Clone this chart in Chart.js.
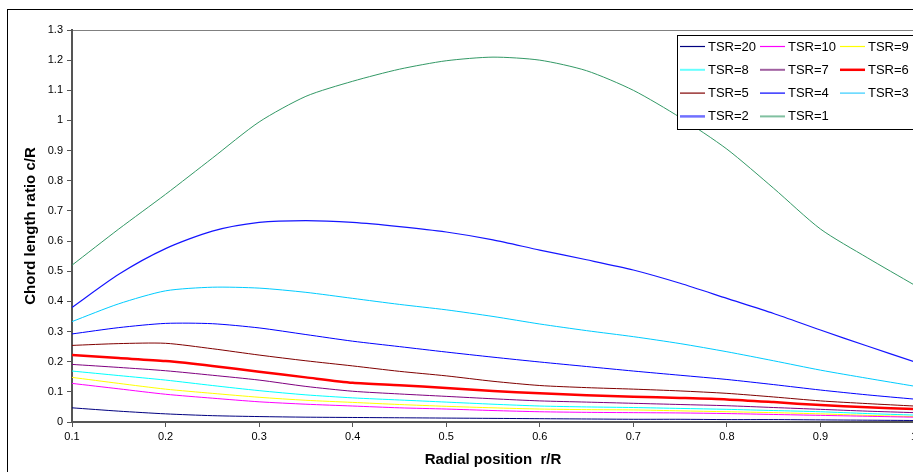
<!DOCTYPE html>
<html>
<head>
<meta charset="utf-8">
<script src="https://cdn.jsdelivr.net/npm/chart.js@4"></script>
<style>
  html, body { margin: 0; padding: 0; background: #fff; overflow: hidden; }
  #wrap { width: 913px; height: 472px; overflow: hidden; }
</style>
</head>
<body>
<div id="wrap"><canvas id="myChart" width="930" height="472"></canvas></div>
<script>
const rPos = [0.1, 0.15, 0.2, 0.25, 0.3, 0.35, 0.4, 0.45, 0.5, 0.55,
  0.6, 0.65, 0.7, 0.75, 0.8, 0.85, 0.9, 0.95, 1.0];

const tsr20 = [0.047, 0.036, 0.027, 0.021, 0.018, 0.016, 0.015, 0.014, 0.013, 0.012,
  0.011, 0.010, 0.009, 0.009, 0.008, 0.008, 0.007, 0.006, 0.005];
const tsr10 = [0.128, 0.110, 0.092, 0.079, 0.067, 0.059, 0.053, 0.047, 0.043, 0.038,
  0.034, 0.032, 0.031, 0.030, 0.028, 0.025, 0.022, 0.019, 0.016];
const tsr9 = [0.148, 0.128, 0.109, 0.095, 0.082, 0.072, 0.065, 0.058, 0.052, 0.047,
  0.043, 0.041, 0.040, 0.037, 0.034, 0.031, 0.027, 0.022, 0.018];
const tsr8 = [0.169, 0.154, 0.139, 0.121, 0.104, 0.090, 0.080, 0.073, 0.066, 0.059,
  0.053, 0.050, 0.048, 0.045, 0.042, 0.038, 0.034, 0.028, 0.023];
const tsr7 = [0.191, 0.181, 0.170, 0.155, 0.139, 0.118, 0.102, 0.093, 0.085, 0.077,
  0.070, 0.066, 0.062, 0.058, 0.054, 0.048, 0.042, 0.036, 0.031];
const tsr6 = [0.222, 0.212, 0.202, 0.186, 0.167, 0.148, 0.130, 0.122, 0.113, 0.103,
  0.095, 0.089, 0.084, 0.080, 0.075, 0.066, 0.056, 0.049, 0.043];
const tsr5 = [0.254, 0.260, 0.261, 0.243, 0.222, 0.203, 0.186, 0.168, 0.153, 0.135,
  0.121, 0.114, 0.109, 0.103, 0.095, 0.083, 0.070, 0.061, 0.053];
const tsr4 = [0.292, 0.313, 0.327, 0.326, 0.312, 0.290, 0.268, 0.250, 0.232, 0.215,
  0.199, 0.184, 0.169, 0.155, 0.141, 0.124, 0.106, 0.090, 0.076];
const tsr3 = [0.333, 0.392, 0.435, 0.447, 0.444, 0.430, 0.410, 0.390, 0.372, 0.350,
  0.325, 0.303, 0.283, 0.260, 0.233, 0.203, 0.172, 0.145, 0.119];
const tsr2 = [0.380, 0.490, 0.575, 0.633, 0.662, 0.668, 0.662, 0.648, 0.630, 0.604,
  0.570, 0.538, 0.504, 0.460, 0.410, 0.360, 0.305, 0.252, 0.200];
const tsr1 = [0.520, 0.640, 0.755, 0.875, 0.995, 1.080, 1.130, 1.170, 1.198, 1.210,
  1.200, 1.165, 1.100, 1.010, 0.905, 0.775, 0.640, 0.545, 0.455];

const seriesLabels = ["TSR=20", "TSR=10", "TSR=9", "TSR=8", "TSR=7", "TSR=6",
  "TSR=5", "TSR=4", "TSR=3", "TSR=2", "TSR=1"];
const seriesValues = [tsr20, tsr10, tsr9, tsr8, tsr7, tsr6, tsr5, tsr4, tsr3, tsr2, tsr1];
const seriesColors = ["#000080", "#FF00FF", "#FFFF00", "#00FFFF", "#800080", "#FF0000",
  "#800000", "#0000FF", "#00CCFF", "#1515FF", "#339966"];
const seriesWidths = [1, 1, 1, 1, 1, 2.5, 1, 1, 1, 1.2, 1];
const legendColors = ["#000080", "#FF00FF", "#FFFF00", "#66FFFF", "#A060A0", "#FF0000",
  "#800000", "#0000FF", "#33CCFF", "#7070FF", "#80C0A0"];
const legendWidths = [1.2, 1.2, 1.2, 2, 2, 2.5, 1.2, 1.2, 1.2, 2.5, 2];

const datasets = seriesLabels.map((lbl, i) => ({
  label: lbl,
  data: rPos.map((r, j) => ({ x: r, y: seriesValues[i][j] })),
  borderColor: seriesColors[i],
  backgroundColor: seriesColors[i],
  borderWidth: seriesWidths[i],
  pointRadius: 0,
  tension: 0.25,
  fill: false,
}));

// frame round the whole chart and grey top edge of the plot area
const framePlugin = {
  id: "frame",
  beforeDraw(chart) {
    const ctx = chart.ctx;
    const a = chart.chartArea;
    ctx.save();
    ctx.fillStyle = "#fff";
    ctx.fillRect(0, 0, chart.width, chart.height);
    ctx.strokeStyle = "#000";
    ctx.lineWidth = 1;
    ctx.strokeRect(7.5, 9.5, chart.width + 20, chart.height + 20);
    ctx.strokeStyle = "#808080";
    ctx.strokeRect(a.left + 0.5, a.top + 0.5, a.right - a.left, a.bottom - a.top);
    ctx.restore();
  },
};

// legend box in three columns, drawn over the curves
const legendPlugin = {
  id: "boxLegend",
  afterDatasetsDraw(chart) {
    const ctx = chart.ctx;
    ctx.save();
    ctx.fillStyle = "#fff";
    ctx.fillRect(677, 35, 260, 94);
    ctx.strokeStyle = "#000";
    ctx.lineWidth = 1;
    ctx.strokeRect(677.5, 35.5, 260, 94);
    ctx.font = "13px 'Liberation Sans', Arial, sans-serif";
    ctx.textBaseline = "middle";
    ctx.fillStyle = "#000";
    chart.data.datasets.forEach((ds, i) => {
      const col = i % 3;
      const row = Math.floor(i / 3);
      const x = 680 + col * 80;
      const y = 46.5 + row * 23.3;
      ctx.strokeStyle = legendColors[i];
      ctx.lineWidth = legendWidths[i];
      ctx.beginPath();
      ctx.moveTo(x, y);
      ctx.lineTo(x + 25, y);
      ctx.stroke();
      ctx.fillText(ds.label, x + 28, y + 0.5);
    });
    ctx.restore();
  },
};

const tickFont = { family: "'Liberation Sans', Arial, sans-serif", size: 11 };
const titleFont = { family: "'Liberation Sans', Arial, sans-serif", size: 15, weight: "bold" };

new Chart("myChart", {
  type: "line",
  data: { datasets: datasets },
  plugins: [framePlugin, legendPlugin],
  options: {
    responsive: false,
    animation: false,
    devicePixelRatio: 1,
    layout: { padding: { top: 30, right: 16, bottom: 0, left: 0 } },
    plugins: {
      legend: { display: false },
      tooltip: { enabled: false },
    },
    scales: {
      x: {
        type: "linear",
        min: 0.1,
        max: 1,
        ticks: {
          stepSize: 0.1,
          color: "#000",
          font: tickFont,
          maxRotation: 0,
          padding: 3,
          callback: (v) => String(parseFloat(v.toFixed(1))),
        },
        grid: { display: true, drawOnChartArea: false, drawTicks: true, tickLength: 5, color: "#555" },
        border: { display: true, color: "#555", width: 2 },
        title: { display: true, text: "Radial position  r/R", color: "#000", font: titleFont, padding: { top: 0, bottom: 3 } },
        afterFit: (s) => { s.height = 50; },
      },
      y: {
        type: "linear",
        min: 0,
        max: 1.3,
        ticks: {
          stepSize: 0.1,
          color: "#000",
          font: tickFont,
          padding: 4,
          callback: (v) => String(parseFloat(v.toFixed(1))),
        },
        grid: { display: true, drawOnChartArea: false, drawTicks: true, tickLength: 5, color: "#555" },
        border: { display: true, color: "#555", width: 2 },
        title: { display: true, text: "Chord length ratio c/R", color: "#000", font: titleFont, padding: { top: 22, bottom: 0 } },
        afterFit: (s) => { s.width = 72; },
      },
    },
  },
});
</script>
</body>
</html>
